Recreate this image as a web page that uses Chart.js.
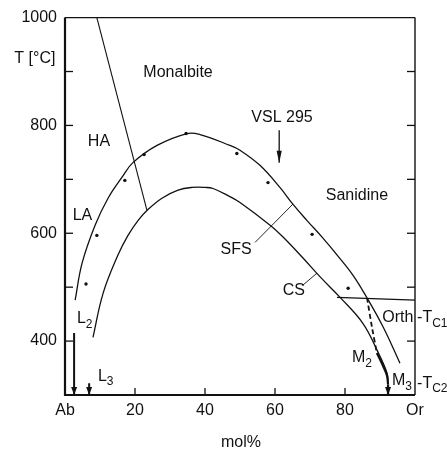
<!DOCTYPE html>
<html><head><meta charset="utf-8">
<script src="https://cdn.jsdelivr.net/npm/chart.js@4"></script>
<style>html,body{margin:0;padding:0;background:#fff}canvas{display:block}</style>
</head><body>
<canvas id="c" width="447" height="458"></canvas>
<script>
// ---- data ----
const xTickValues = [0, 20, 40, 60, 80, 100];
const xTickText = ['Ab', '20', '40', '60', '80', 'Or'];
const yTickValues = [400, 600, 800, 1000];
const xTickMarks = [20, 40, 60, 80];
const yTickMarks = [400, 500, 600, 700, 800, 900];

const sfsCurve = [[2.9,476],[4.9,545],[8.6,615],[12.3,665],[16.3,704],[19.4,731],[26.3,763],[34.9,785],[38.6,783],[47.1,763],[50,754],[55.7,726],[61.4,685],[65.1,654],[69.1,624],[73.7,591],[77.7,560],[82.3,522],[86.3,480],[90.9,426],[95.7,359]];
const csCurve = [[8,407],[10.9,489],[15.1,559],[18,596],[20.9,624],[23.7,644],[27.7,665],[32.3,680],[36.3,685],[40,685],[42.3,683],[47.1,668],[50,657],[58.6,615],[62.3,593],[68,554],[72.9,519],[78.6,481],[85.1,433],[89.4,380],[92,341],[92.3,322]];
const m2Dashed = [[86.3,480],[87.7,426],[89.1,378]];
const m3Thick = [[89.1,378],[90.8,355],[92,336],[92.3,320]];
const haLaBoundary = [[9.1,1000],[23.4,643]];
const tc1Line = [[77.7,481],[100,476]];
const sfsLeader = [[54.3,583],[65.1,654]];
const csLeader = [[68,504],[72,526]];
const measuredPoints = [[6.0,506],[9.1,596],[17.1,698],[22.6,746],[34.6,785],[49.1,748],[58.0,694],[70.6,598],[80.9,498]];
const arrowX = [2.6, 6.9, 61.2, 92.3];
const arrowFrom = [415, 322, 791, 320];
const arrowTo = [300, 300, 731, 300];
const arrowWidth = [2, 2, 1.3, 2.2];

// text labels (positions in data units)
const plainLabels = [
  ['Monalbite', 32.3, 898], ['HA', 9.7, 770], ['LA', 5.0, 633], ['Sanidine', 83.4, 669],
  ['VSL 295', 62.0, 815], ['SFS', 48.9, 569], ['CS', 65.4, 494], ['Orth', 95.1, 444],
  ['T [°C]', -8.6, 924], ['mol%', 50.3, 211]
];
const subLabels = [
  ['L', '2', 3.4, 441], ['L', '3', 9.4, 335], ['M', '2', 82.0, 370], ['M', '3', 93.4, 326],
  ['-T', 'C1', 100.6, 443], ['-T', 'C2', 100.6, 322]
];

const toXY = a => a.map(p => ({x: p[0], y: p[1]}));
const INK = '#111';
const FONT = '"Liberation Sans", Arial, sans-serif';

function lineSet(d, w, extra) {
  return Object.assign({data: toXY(d), showLine: true, pointRadius: 0, borderColor: INK, borderWidth: w, fill: false, tension: 0}, extra || {});
}

const datasets = [
  lineSet(sfsCurve, 1.3, {tension: 0.4}),
  lineSet(csCurve, 1.3, {tension: 0.4}),
  lineSet(m2Dashed, 1.8, {borderDash: [5, 3], tension: 0.3}),
  lineSet(m3Thick, 2.2, {tension: 0.3}),
  lineSet(haLaBoundary, 1.1),
  lineSet(tc1Line, 1.1),
  lineSet(sfsLeader, 0.9),
  lineSet(csLeader, 0.9),
  {data: toXY(measuredPoints), showLine: false, pointRadius: 1.7, pointBackgroundColor: INK, pointBorderWidth: 0}
];
arrowX.forEach((x, i) => {
  datasets.push(lineSet([[x, arrowFrom[i]], [x, arrowTo[i]]], arrowWidth[i]));
});

const decor = {
  id: 'decor',
  afterDraw(chart) {
    const {ctx, chartArea: a, scales: {x, y}} = chart;
    ctx.save();
    ctx.strokeStyle = INK;
    ctx.lineCap = 'butt';
    const seg = (x1, y1, x2, y2, w) => { ctx.lineWidth = w; ctx.beginPath(); ctx.moveTo(x1, y1); ctx.lineTo(x2, y2); ctx.stroke(); };
    seg(a.left, a.top, a.left, a.bottom + 1, 2.2);
    seg(a.left - 1, a.bottom, a.right, a.bottom, 2);
    seg(a.left, a.top, a.right, a.top, 1.4);
    seg(a.right, a.top, a.right, a.bottom, 1.4);
    yTickMarks.forEach(v => {
      const py = y.getPixelForValue(v);
      seg(a.left, py, a.left + 8, py, 1.3);
      seg(a.right, py, a.right - 8, py, 1.3);
    });
    xTickMarks.forEach(v => {
      const px = x.getPixelForValue(v);
      seg(px, a.bottom, px, a.bottom - 7, 1.3);
    });
    ctx.fillStyle = INK;
    arrowX.forEach((v, i) => {
      const px = x.getPixelForValue(v);
      const py = y.getPixelForValue(arrowTo[i]);
      const len = i === 2 ? 12 : 8, hw = i === 2 ? 2.6 : 3;
      ctx.beginPath(); ctx.moveTo(px, py); ctx.lineTo(px - hw, py - len); ctx.lineTo(px + hw, py - len); ctx.closePath(); ctx.fill();
    });
    ctx.textBaseline = 'middle';
    ctx.textAlign = 'center';
    ctx.font = '16px ' + FONT;
    plainLabels.forEach(l => ctx.fillText(l[0], x.getPixelForValue(l[1]), y.getPixelForValue(l[2])));
    ctx.textAlign = 'left';
    subLabels.forEach(l => {
      const px = x.getPixelForValue(l[2]), py = y.getPixelForValue(l[3]);
      ctx.font = '16px ' + FONT;
      ctx.fillText(l[0], px, py);
      const w = ctx.measureText(l[0]).width;
      ctx.font = '12px ' + FONT;
      ctx.fillText(l[1], px + w, py + 6);
    });
    ctx.restore();
  }
};

new Chart(document.getElementById('c'), {
  type: 'scatter',
  data: {datasets},
  options: {
    responsive: false,
    animation: false,
    layout: {padding: {top: 17, right: 32, left: 0, bottom: 0}},
    plugins: {legend: {display: false}, tooltip: {enabled: false}},
    scales: {
      x: {
        type: 'linear', min: 0, max: 100,
        afterFit(s) { s.height = 63; },
        afterBuildTicks(s) { s.ticks = xTickValues.map(v => ({value: v})); },
        ticks: {callback: v => xTickText[xTickValues.indexOf(v)] ?? '', padding: 6, color: INK, font: {family: FONT, size: 16}, maxRotation: 0, autoSkip: false},
        grid: {display: false, drawTicks: false},
        border: {display: false}
      },
      y: {
        type: 'linear', min: 300, max: 1000,
        afterFit(s) { s.width = 65; },
        afterBuildTicks(s) { s.ticks = yTickValues.map(v => ({value: v})); },
        ticks: {callback: v => String(v), padding: 8, color: INK, font: {family: FONT, size: 16}, autoSkip: false},
        grid: {display: false, drawTicks: false},
        border: {display: false}
      }
    }
  },
  plugins: [decor]
});
</script>
</body></html>
